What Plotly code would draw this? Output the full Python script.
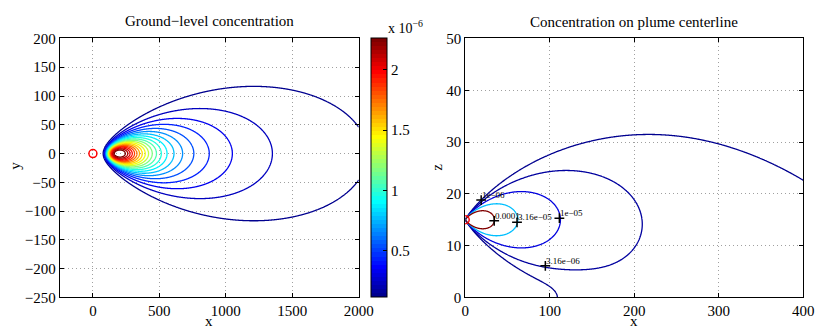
import numpy as np
import plotly.graph_objects as go

# ---------------- values ----------------
EMISSION_RATE = 0.01        # Q
WIND_SPEED = 2.84           # u
STACK_HEIGHT = 15.0         # H (source height)
SOURCE_X = [0.0]
SOURCE_Y = [0.0]
SOURCE_Z = [15.0]
SIGMA_Y_COEF = [0.08, 0.0001]   # sigma_y = a x (1 + b x)^-0.5
SIGMA_Z_COEF = [0.06, 0.0015]   # sigma_z = a x (1 + b x)^-0.5

GROUND_LEVEL_MIN = 0.118    # x 1e-6
GROUND_LEVEL_MAX = 2.263    # x 1e-6
GROUND_LEVEL_COUNT = 21

CENTER_LEVELS_LOG10 = [-6.0, -5.5, -5.0, -4.5, -4.0]
CENTER_LEVEL_RANGE = [1e-6, 1e-4]

LABEL_X = [18.9, 34.3, 61.3, 111.4, 94.8]
LABEL_Z = [18.8, 14.8, 14.5, 15.3, 6.1]
LABEL_TEXT = ["1e\u221206", "0.0001", "3.16e\u221205", "1e\u221205", "3.16e\u221206"]

X1_RANGE = [-250, 2000]
Y1_RANGE = [-250, 200]
X1_TICKS = [0, 500, 1000, 1500, 2000]
Y1_TICKS = [-250, -200, -150, -100, -50, 0, 50, 100, 150, 200]
X2_RANGE = [0, 400]
Y2_RANGE = [0, 50]
X2_TICKS = [0, 100, 200, 300, 400]
Y2_TICKS = [0, 10, 20, 30, 40, 50]
CBAR_TICKS = [0.5, 1, 1.5, 2]
CBAR_TICKTEXT = ["0.5", "1", "1.5", "2"]

TITLE_LEFT = "Ground\u2212level concentration"
TITLE_RIGHT = "Concentration on plume centerline"

FONT = "Liberation Serif, Times New Roman, Times, serif"

# ---------------- MATLAB jet(64) colormap ----------------
def jet64():
    cols = []
    for i in range(1, 65):
        if i <= 8:
            r, g, b = 0, 0, 0.5 + i / 16
        elif i <= 24:
            r, g, b = 0, (i - 8) / 16, 1
        elif i <= 40:
            r, g, b = (i - 24) / 16, 1, 1 - (i - 24) / 16
        elif i <= 56:
            r, g, b = 1, 1 - (i - 40) / 16, 0
        else:
            r, g, b = 1 - (i - 56) / 16, 0, 0
        cols.append("rgb(%d,%d,%d)" % (round(r * 255), round(g * 255), round(b * 255)))
    return cols

JET = jet64()
JET_STEP = []
for k, c in enumerate(JET):
    JET_STEP.append([k / 64, c])
    JET_STEP.append([(k + 1) / 64, c])

def jet_color(t):
    idx = min(max(int(t * 64), 0), 63)
    return JET[idx]

# ---------------- Gaussian plume model ----------------
def sig(x, coef):
    return coef[0] * x / np.sqrt(1 + coef[1] * x)

# ground level field
xg = np.concatenate([np.arange(20.0, 400.0, 1.0), np.arange(400.0, 2001.0, 4.0)])
yg = np.arange(-150.0, 150.5, 1.0)
XG, YG = np.meshgrid(xg, yg)
sy = sig(XG, SIGMA_Y_COEF)
sz = sig(XG, SIGMA_Z_COEF)
CG = EMISSION_RATE / (np.pi * WIND_SPEED * sy * sz) * np.exp(-YG ** 2 / (2 * sy ** 2)) \
    * np.exp(-STACK_HEIGHT ** 2 / (2 * sz ** 2))
CG_scaled = np.round(CG * 1e6, 5)

# centerline vertical field
xc = np.concatenate([np.linspace(0.25, 20.0, 160), np.linspace(20.5, 400.0, 460)])
zc = np.linspace(0.0, 50.0, 501)
XC, ZC = np.meshgrid(xc, zc)
sy2 = sig(XC, SIGMA_Y_COEF)
sz2 = sig(XC, SIGMA_Z_COEF)
CC = EMISSION_RATE / (2 * np.pi * WIND_SPEED * sy2 * sz2) * (
    np.exp(-(ZC - STACK_HEIGHT) ** 2 / (2 * sz2 ** 2)) +
    np.exp(-(ZC + STACK_HEIGHT) ** 2 / (2 * sz2 ** 2)))
CC_log = np.round(np.log10(np.maximum(CC, 1e-30)), 4)

lev_step = (GROUND_LEVEL_MAX - GROUND_LEVEL_MIN) / (GROUND_LEVEL_COUNT - 1)

center_colors = []
for L in CENTER_LEVELS_LOG10:
    t = (10 ** L - CENTER_LEVEL_RANGE[0]) / (CENTER_LEVEL_RANGE[1] - CENTER_LEVEL_RANGE[0])
    center_colors.append(jet_color(t))
n_c = len(CENTER_LEVELS_LOG10)
center_cs = [[i / (n_c - 1), center_colors[i]] for i in range(n_c)]

fig = go.Figure()

fig.add_trace(go.Contour(
    x=xg, y=yg, z=CG_scaled, xaxis="x", yaxis="y",
    autocontour=False,
    contours=dict(start=GROUND_LEVEL_MIN, end=GROUND_LEVEL_MAX + 1e-6, size=lev_step,
                  coloring="lines"),
    colorscale=JET_STEP, zmin=GROUND_LEVEL_MIN, zmax=GROUND_LEVEL_MAX, zauto=False,
    line=dict(width=1.3), showscale=False, hoverinfo="skip"))

# colorbar carrier (invisible markers)
fig.add_trace(go.Scatter(
    x=SOURCE_X * 2, y=SOURCE_Y * 2, xaxis="x", yaxis="y", mode="markers",
    marker=dict(size=1, opacity=0, color=[GROUND_LEVEL_MIN, GROUND_LEVEL_MAX],
                colorscale=JET_STEP, cmin=GROUND_LEVEL_MIN, cmax=GROUND_LEVEL_MAX,
                showscale=True,
                colorbar=dict(x=376 / 831, xanchor="left", xpad=0, ypad=0,
                              y=(334 - 167.5) / 334, yanchor="middle",
                              len=271.6 / 334, lenmode="fraction", thickness=16,
                              outlinewidth=1, outlinecolor="black",
                              tickvals=CBAR_TICKS, ticktext=CBAR_TICKTEXT,
                              ticks="inside", ticklen=4, tickcolor="black",
                              tickfont=dict(family=FONT, size=15, color="black"))),
    hoverinfo="skip", showlegend=False))

fig.add_trace(go.Scatter(
    x=SOURCE_X, y=SOURCE_Y, xaxis="x", yaxis="y", mode="markers",
    marker=dict(symbol="circle-open", size=8, color="red", line=dict(width=1.5, color="red")),
    hoverinfo="skip", showlegend=False))

fig.add_trace(go.Contour(
    x=xc, y=zc, z=CC_log, xaxis="x2", yaxis="y2",
    autocontour=False,
    contours=dict(start=CENTER_LEVELS_LOG10[0], end=CENTER_LEVELS_LOG10[-1] + 1e-6,
                  size=CENTER_LEVELS_LOG10[1] - CENTER_LEVELS_LOG10[0], coloring="lines"),
    colorscale=center_cs, zmin=CENTER_LEVELS_LOG10[0], zmax=CENTER_LEVELS_LOG10[-1],
    zauto=False, line=dict(width=1.3), showscale=False, hoverinfo="skip"))

fig.add_trace(go.Scatter(
    x=LABEL_X, y=LABEL_Z, xaxis="x2", yaxis="y2", mode="markers",
    marker=dict(symbol="cross-thin", size=7, color="black", line=dict(width=1.5, color="black")),
    hoverinfo="skip", showlegend=False))

fig.add_trace(go.Scatter(
    x=SOURCE_X, y=SOURCE_Z, xaxis="x2", yaxis="y2", mode="markers",
    marker=dict(symbol="circle-open", size=8, color="red", line=dict(width=1.5, color="red")),
    hoverinfo="skip", showlegend=False))

axis_common = dict(showline=True, linecolor="black", linewidth=1, mirror="ticks",
                   ticks="inside", ticklen=4, tickcolor="black", showgrid=True,
                   gridcolor="#a0a0a0", griddash="1px,3px", gridwidth=1, zeroline=False,
                   tickfont=dict(family=FONT, size=15, color="black"))

fig.update_layout(
    width=831, height=334, margin=dict(l=0, r=0, t=0, b=0),
    paper_bgcolor="white", plot_bgcolor="white", showlegend=False,
    xaxis=dict(domain=[57 / 831, 363 / 831], range=X1_RANGE, tickvals=X1_TICKS,
               anchor="y", **axis_common),
    yaxis=dict(domain=[30 / 334, 302 / 334], range=Y1_RANGE, tickvals=Y1_TICKS,
               anchor="x", **axis_common),
    xaxis2=dict(domain=[472 / 831, 818 / 831], range=X2_RANGE, tickvals=X2_TICKS,
                anchor="y2", **axis_common),
    yaxis2=dict(domain=[30 / 334, 302 / 334], range=Y2_RANGE, tickvals=Y2_TICKS,
                anchor="x2", **axis_common),
)

ann = []
def txt(x, y, s, size=14, **kw):
    d = dict(x=x, y=y, xref="paper", yref="paper", text=s, showarrow=False,
             font=dict(family=FONT, size=size, color="black"))
    d.update(kw)
    ann.append(d)

txt(210 / 831, 1 - 14 / 334, TITLE_LEFT, size=15, xanchor="center", yanchor="middle")
txt(645 / 831, 1 - 15 / 334, TITLE_RIGHT, size=15, xanchor="center", yanchor="middle")
txt(210 / 831, 0, "x", size=15, xanchor="center", yanchor="bottom", yshift=-5)
txt(645 / 831, 0, "x", size=15, xanchor="center", yanchor="bottom", yshift=-5)
txt(11 / 831, 1 - 166 / 334, "y", size=15, xanchor="center", yanchor="middle", textangle=-90)
txt(443 / 831, 1 - 167 / 334, "z", size=15, xanchor="center", yanchor="middle", textangle=-90)
txt(391 / 831, 1 - 20 / 334, "x 10<sup>\u22126</sup>", size=14, xanchor="left", yanchor="middle")

for lx, lz, lt in zip(LABEL_X, LABEL_Z, LABEL_TEXT):
    ann.append(dict(x=lx, y=lz, xref="x2", yref="y2", text=lt, showarrow=False,
                    xanchor="left", yanchor="bottom", xshift=-1, yshift=-2,
                    font=dict(family=FONT, size=9, color="black")))

fig.update_layout(annotations=ann)
fig.write_html("out.html", config={"displayModeBar": False},
               post_script="document.body.style.margin='0';document.body.style.padding='0';"
                           "document.documentElement.style.overflow='hidden';")
